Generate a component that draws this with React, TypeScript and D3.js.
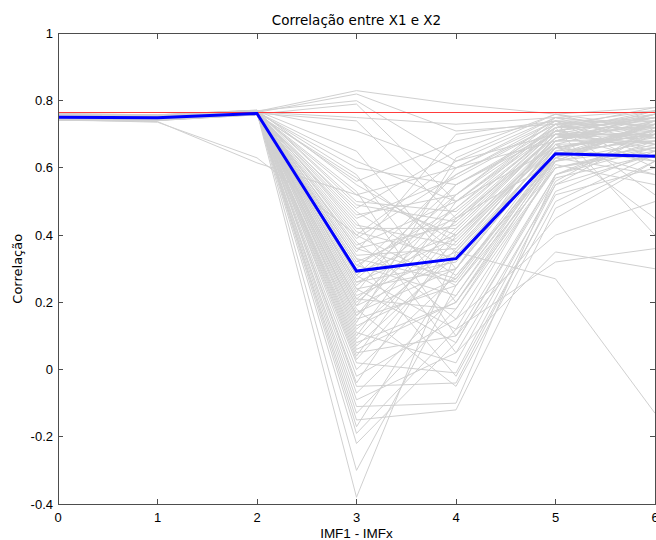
import React from "react";
import * as d3 from "d3";

const xTicks = [0, 1, 2, 3, 4, 5, 6];
const yTicks = [-0.4, -0.2, 0, 0.2, 0.4, 0.6, 0.8, 1];

const meanSeries = [0.751, 0.749, 0.762, 0.293, 0.33, 0.642, 0.635];
const referenceLevel = 0.765;

const simSeries: number[][] = [
  [0.755, 0.752, 0.768, 0.83, 0.79, 0.76, 0.78],
  [0.75, 0.748, 0.765, 0.82, 0.71, 0.73, 0.75],
  [0.76, 0.755, 0.77, 0.8, 0.62, 0.7, 0.72],
  [0.745, 0.742, 0.76, 0.79, 0.5, 0.66, 0.7],
  [0.752, 0.75, 0.766, 0.75, 0.73, 0.75, 0.77],
  [0.748, 0.746, 0.763, 0.74, 0.45, 0.62, 0.68],
  [0.756, 0.753, 0.769, 0.71, 0.6, 0.68, 0.74],
  [0.742, 0.738, 0.615, 0.52, 0.4, 0.66, 0.71],
  [0.744, 0.736, 0.63, 0.4, 0.25, 0.6, 0.65],
  [0.758, 0.754, 0.77, 0.65, 0.3, 0.72, 0.76],
  [0.751, 0.749, 0.765, 0.6, 0.55, 0.7, 0.62],
  [0.753, 0.751, 0.767, 0.58, 0.2, 0.64, 0.69],
  [0.747, 0.745, 0.762, 0.56, 0.68, 0.74, 0.6],
  [0.762, 0.758, 0.772, 0.55, 0.38, 0.69, 0.73],
  [0.749, 0.747, 0.764, 0.53, 0.1, 0.58, 0.66],
  [0.755, 0.752, 0.768, 0.5, 0.47, 0.71, 0.75],
  [0.743, 0.741, 0.758, 0.48, 0.65, 0.76, 0.72],
  [0.757, 0.754, 0.769, 0.47, 0.28, 0.63, 0.58],
  [0.75, 0.748, 0.765, 0.45, 0.57, 0.73, 0.77],
  [0.746, 0.744, 0.761, 0.44, 0.05, 0.55, 0.64],
  [0.759, 0.756, 0.771, 0.42, 0.42, 0.7, 0.7],
  [0.752, 0.75, 0.766, 0.41, 0.33, 0.67, 0.74],
  [0.748, 0.746, 0.763, 0.4, 0.62, 0.75, 0.67],
  [0.754, 0.751, 0.767, 0.38, 0.15, 0.61, 0.55],
  [0.745, 0.743, 0.76, 0.37, 0.5, 0.72, 0.78],
  [0.76, 0.757, 0.771, 0.36, 0.27, 0.66, 0.71],
  [0.751, 0.749, 0.765, 0.35, 0.7, 0.74, 0.63],
  [0.749, 0.747, 0.764, 0.34, 0.36, 0.68, 0.76],
  [0.756, 0.753, 0.768, 0.33, -0.02, 0.52, 0.6],
  [0.744, 0.742, 0.759, 0.32, 0.45, 0.71, 0.69],
  [0.758, 0.755, 0.77, 0.31, 0.22, 0.65, 0.73],
  [0.753, 0.751, 0.767, 0.3, 0.58, 0.73, 0.52],
  [0.747, 0.745, 0.762, 0.29, 0.4, 0.69, 0.75],
  [0.755, 0.752, 0.768, 0.28, 0.12, 0.62, 0.66],
  [0.75, 0.748, 0.765, 0.27, 0.52, 0.75, 0.72],
  [0.746, 0.744, 0.761, 0.26, 0.32, 0.67, 0.45],
  [0.761, 0.758, 0.772, 0.25, 0.48, 0.71, 0.77],
  [0.752, 0.75, 0.766, 0.24, 0.08, 0.58, 0.68],
  [0.748, 0.746, 0.763, 0.23, 0.6, 0.74, 0.71],
  [0.754, 0.751, 0.767, 0.22, 0.35, 0.66, 0.62],
  [0.745, 0.743, 0.76, 0.21, 0.18, 0.63, 0.74],
  [0.759, 0.756, 0.771, 0.2, 0.44, 0.7, 0.7],
  [0.751, 0.749, 0.765, 0.19, 0.55, 0.72, 0.4],
  [0.749, 0.747, 0.764, 0.18, -0.05, 0.5, 0.64],
  [0.757, 0.754, 0.769, 0.17, 0.3, 0.68, 0.76],
  [0.743, 0.741, 0.758, 0.16, 0.42, 0.7, 0.67],
  [0.756, 0.753, 0.768, 0.15, 0.25, 0.64, 0.73],
  [0.75, 0.748, 0.765, 0.14, 0.63, 0.76, 0.69],
  [0.747, 0.745, 0.762, 0.12, 0.38, 0.67, 0.58],
  [0.753, 0.751, 0.767, 0.11, 0.02, 0.56, 0.72],
  [0.758, 0.755, 0.77, 0.1, 0.5, 0.71, 0.75],
  [0.746, 0.744, 0.761, 0.08, 0.2, 0.6, 0.66],
  [0.752, 0.75, 0.766, 0.07, 0.34, 0.66, 0.7],
  [0.755, 0.752, 0.768, 0.05, 0.1, 0.45, 0.62],
  [0.749, 0.747, 0.764, 0.04, 0.45, 0.69, 0.77],
  [0.744, 0.742, 0.759, 0.02, -0.01, 0.55, 0.71],
  [0.76, 0.757, 0.771, 0.0, 0.28, 0.62, 0.74],
  [0.751, 0.749, 0.765, -0.02, 0.15, 0.4, 0.5],
  [0.748, 0.746, 0.763, -0.04, 0.4, 0.68, 0.68],
  [0.754, 0.751, 0.767, -0.05, -0.04, 0.53, 0.65],
  [0.757, 0.754, 0.769, -0.07, 0.22, 0.63, 0.73],
  [0.745, 0.743, 0.76, -0.09, 0.05, 0.35, 0.3],
  [0.753, 0.751, 0.767, -0.11, -0.1, 0.58, 0.7],
  [0.75, 0.748, 0.765, -0.13, 0.18, 0.6, 0.67],
  [0.747, 0.745, 0.762, -0.15, -0.12, 0.48, 0.62],
  [0.756, 0.753, 0.768, -0.17, 0.3, 0.66, 0.72],
  [0.752, 0.75, 0.766, -0.19, 0.12, 0.32, 0.36],
  [0.749, 0.747, 0.764, -0.22, 0.08, 0.57, 0.64],
  [0.755, 0.752, 0.768, -0.3, 0.25, 0.63, 0.7],
  [0.751, 0.749, 0.765, -0.38, 0.35, 0.27, -0.13],
  [0.75, 0.748, 0.765, 0.46, 0.52, 0.72, 0.74],
  [0.753, 0.751, 0.766, 0.43, 0.37, 0.69, 0.71],
  [0.748, 0.746, 0.763, 0.39, 0.58, 0.74, 0.69],
  [0.756, 0.753, 0.768, 0.36, 0.43, 0.7, 0.76],
  [0.745, 0.743, 0.76, 0.33, 0.26, 0.65, 0.68],
  [0.759, 0.756, 0.771, 0.31, 0.48, 0.73, 0.73],
  [0.752, 0.75, 0.766, 0.28, 0.55, 0.71, 0.65],
  [0.749, 0.747, 0.764, 0.26, 0.39, 0.68, 0.75],
  [0.754, 0.751, 0.767, 0.24, 0.3, 0.66, 0.7],
  [0.747, 0.745, 0.762, 0.21, 0.46, 0.72, 0.72],
  [0.757, 0.754, 0.769, 0.19, 0.33, 0.67, 0.68],
  [0.75, 0.748, 0.765, 0.16, 0.52, 0.74, 0.74],
  [0.753, 0.751, 0.767, 0.13, 0.27, 0.64, 0.71],
  [0.746, 0.744, 0.761, 0.09, 0.41, 0.7, 0.66],
  [0.755, 0.752, 0.768, 0.06, 0.2, 0.62, 0.73],
  [0.751, 0.749, 0.765, 0.03, 0.36, 0.68, 0.69],
  [0.748, 0.746, 0.763, 0.52, 0.6, 0.75, 0.72],
  [0.758, 0.755, 0.77, 0.49, 0.44, 0.71, 0.75],
  [0.744, 0.742, 0.759, 0.57, 0.35, 0.69, 0.7],
  [0.752, 0.75, 0.766, 0.62, 0.5, 0.73, 0.67],
];

const W = 656;
const H = 540;
const L = 58;
const R = 655;
const T = 33.5;
const B = 504;

export default function App() {
  const x = d3.scaleLinear().domain([0, 6]).range([L, R]);
  const y = d3.scaleLinear().domain([-0.4, 1]).range([B, T]);
  const line = d3
    .line<number>()
    .x((_, i) => x(xTicks[i]))
    .y((d) => y(d));
  const fmt = (v: number) => String(+v.toFixed(1));
  const axisColor = "#4d4d4d";
  const tickLen = 5;
  const tickFont = "'Liberation Sans', Arial, sans-serif";
  const labelFont = "'DejaVu Sans', Verdana, sans-serif";

  return (
    <svg
      width={W}
      height={H}
      style={{ position: "absolute", left: 0, top: 0, background: "#fff" }}
    >
      <rect x={0} y={0} width={W} height={H} fill="#fff" />
      <g>
        {simSeries.map((s, i) => (
          <path
            key={i}
            d={line(s) || ""}
            fill="none"
            stroke="#d0d0d0"
            strokeWidth={1}
          />
        ))}
      </g>
      <line
        x1={x(0)}
        x2={x(6)}
        y1={y(referenceLevel)}
        y2={y(referenceLevel)}
        stroke="#ff3b3b"
        strokeWidth={1.1}
      />
      <path
        d={line(meanSeries) || ""}
        fill="none"
        stroke="#0000ff"
        strokeWidth={3}
        strokeLinejoin="miter"
      />
      <rect
        x={L}
        y={T}
        width={R - L}
        height={B - T}
        fill="none"
        stroke={axisColor}
        strokeWidth={1}
        shapeRendering="crispEdges"
      />
      {xTicks.map((t) => (
        <g key={"x" + t}>
          <line
            x1={x(t)}
            x2={x(t)}
            y1={B}
            y2={B - tickLen}
            stroke={axisColor}
            shapeRendering="crispEdges"
          />
          <line
            x1={x(t)}
            x2={x(t)}
            y1={T}
            y2={T + tickLen}
            stroke={axisColor}
            shapeRendering="crispEdges"
          />
          <text
            x={x(t)}
            y={522}
            textAnchor="middle"
            fontFamily={tickFont}
            fontSize={13}
            fill="#000"
          >
            {fmt(t)}
          </text>
        </g>
      ))}
      {yTicks.map((t) => (
        <g key={"y" + t}>
          <line
            x1={L}
            x2={L + tickLen}
            y1={y(t)}
            y2={y(t)}
            stroke={axisColor}
            shapeRendering="crispEdges"
          />
          <line
            x1={R}
            x2={R - tickLen}
            y1={y(t)}
            y2={y(t)}
            stroke={axisColor}
            shapeRendering="crispEdges"
          />
          <text
            x={53}
            y={y(t)}
            dy="0.35em"
            textAnchor="end"
            fontFamily={tickFont}
            fontSize={13}
            fill="#000"
          >
            {fmt(t)}
          </text>
        </g>
      ))}
      <text
        x={(L + R) / 2}
        y={25}
        textAnchor="middle"
        fontFamily={labelFont}
        fontSize={13.5}
        fill="#000"
      >
        Correlação entre X1 e X2
      </text>
      <text
        x={(L + R) / 2}
        y={538}
        textAnchor="middle"
        fontFamily={tickFont}
        fontSize={13.5}
        fill="#000"
      >
        IMF1 - IMFx
      </text>
      <text
        transform={`translate(22, ${(T + B) / 2}) rotate(-90)`}
        textAnchor="middle"
        fontFamily={labelFont}
        fontSize={13}
        fill="#000"
      >
        Correlação
      </text>
    </svg>
  );
}
